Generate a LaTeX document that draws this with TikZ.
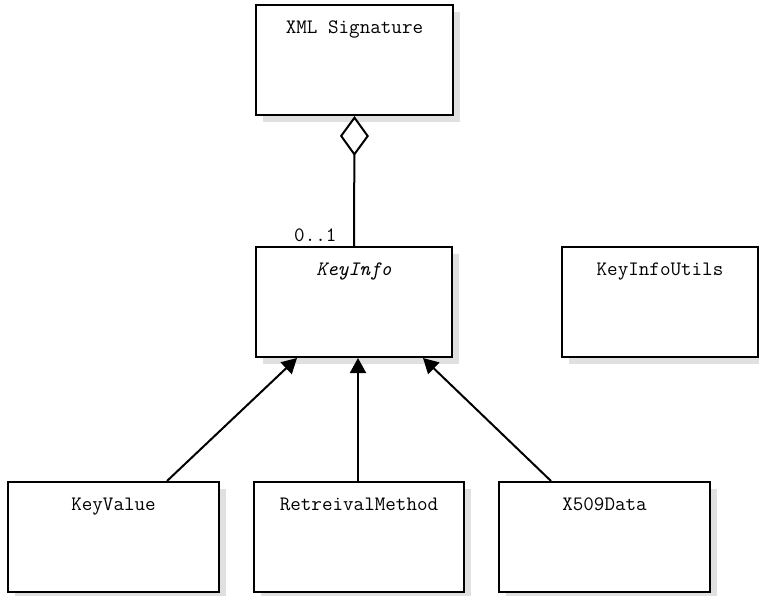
\documentclass[tikz,border=0pt]{standalone}
\usetikzlibrary{arrows.meta}

\tikzset{
  umlfont/.style={font=\ttfamily\fontsize{20.5}{22}\selectfont},
  umlclass/.style={rectangle, draw, line width=2pt, fill=white, umlfont,
    inner xsep=4pt, inner ysep=16pt, text height=12pt, text depth=66pt,
    minimum height=110pt,
    preaction={fill=black!12, transform canvas={shift={(7pt,-7pt)}}}},
  inherit/.style={line width=2pt, -{Triangle[length=15pt,width=16pt]}},
  aggregate/.style={line width=2pt, -{Diamond[length=40pt,width=29pt,fill=white]}}
}

\begin{document}
\begin{tikzpicture}[x=1pt,y=-1pt]
        \useasboundingbox (0,0) rectangle (759,595);

        \begin{scope}[every node/.style={umlclass}]
          \node[minimum width=197pt] (xmlsig)   at (354.5,60)  {XML Signature};
          \node[minimum width=196pt] (keyinfo)  at (354,302)   {\itshape KeyInfo};
          \node[minimum width=196pt] (kiutils)  at (660,302)   {KeyInfoUtils};
          \node[minimum width=211pt] (keyvalue) at (113.5,537) {KeyValue};
          \node[minimum width=210pt] (retrieve) at (359,537)   {RetreivalMethod};
          \node[minimum width=211pt] (x509)     at (604.5,537) {X509Data};
        \end{scope}

        % aggregation and multiplicity
        \draw[aggregate] (keyinfo.north) -- (xmlsig.south);
        \node[umlfont, anchor=south east]
          (mult) at ([xshift=-14pt,yshift=1pt]keyinfo.north) {0..1};

        % generalisations
        \draw[inherit] ([xshift=53.5pt]keyvalue.north) -- ([xshift=-57pt]keyinfo.south);
        \draw[inherit] ([xshift=-1pt]retrieve.north) -- ([xshift=4pt]keyinfo.south);
        \draw[inherit] ([xshift=-53.5pt]x509.north) -- ([xshift=69pt]keyinfo.south);

      \end{tikzpicture}
\end{document}
